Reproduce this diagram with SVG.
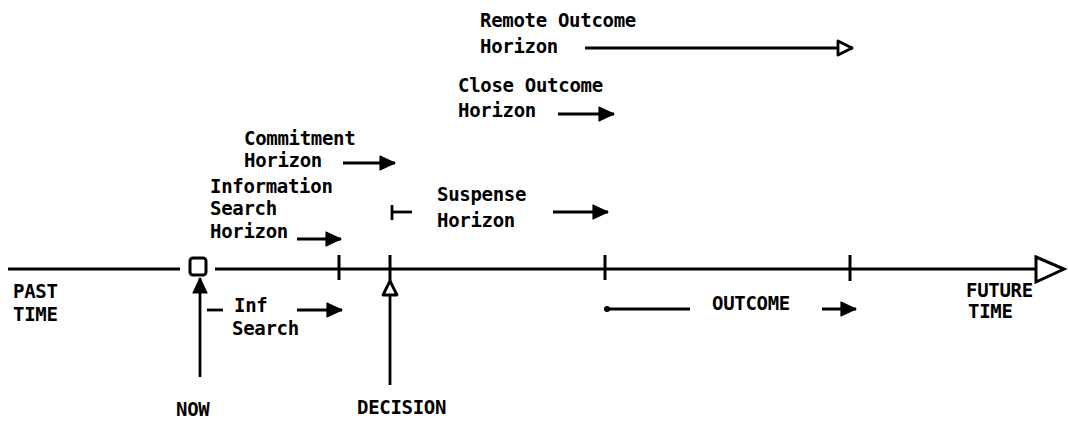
<svg xmlns="http://www.w3.org/2000/svg" width="1068" height="421" viewBox="0 0 1068 421">
<style>
text{font-family:"DejaVu Sans Mono","Liberation Mono",monospace;font-size:19px;letter-spacing:-0.3px;font-weight:bold;fill:#000}
.ln{stroke:#000;stroke-width:3;fill:none;stroke-linecap:butt}
.ar{stroke:#000;stroke-width:2.8;fill:none}
</style>
<defs>
<marker id="fa" markerUnits="userSpaceOnUse" markerWidth="18" markerHeight="16" refX="16" refY="8" orient="auto">
<path d="M1,1 L16,8 L1,15 z" fill="#000" stroke="#000" stroke-width="1.2" stroke-linejoin="round"/>
</marker>
<marker id="oa" markerUnits="userSpaceOnUse" markerWidth="20" markerHeight="18" refX="17" refY="9" orient="auto">
<path d="M2,2 L16,9 L2,16 z" fill="#fff" stroke="#000" stroke-width="2.8" stroke-linejoin="round"/>
</marker>
</defs>
<rect width="1068" height="421" fill="#fff"/>
<g id="connectors">
<line class="ln" x1="8" y1="269" x2="180" y2="269"/>
<line class="ln" x1="215" y1="269" x2="1040" y2="269"/>
<polygon points="1036,257 1064,269 1036,282" fill="#fff" stroke="#000" stroke-width="3"/>
<line class="ln" x1="339" y1="255" x2="339" y2="280"/>
<line class="ln" x1="390" y1="255" x2="390" y2="280"/>
<line class="ln" x1="605" y1="255" x2="605" y2="280"/>
<line class="ln" x1="850" y1="255" x2="850" y2="281"/>
<line class="ar" x1="200" y1="377" x2="200" y2="278" marker-end="url(#fa)"/>
<line class="ar" x1="390" y1="385" x2="390" y2="280" marker-end="url(#oa)"/>
<line class="ar" x1="585" y1="48" x2="853" y2="48" marker-end="url(#oa)"/>
<line class="ar" x1="558" y1="114" x2="614" y2="114" marker-end="url(#fa)"/>
<line class="ar" x1="343" y1="163" x2="395" y2="163" marker-end="url(#fa)"/>
<line class="ar" x1="297" y1="239" x2="341" y2="239" marker-end="url(#fa)"/>
<line class="ar" x1="391" y1="212" x2="412" y2="212"/>
<line class="ar" x1="392" y1="205" x2="392" y2="220"/>
<line class="ar" x1="553" y1="212" x2="608" y2="212" marker-end="url(#fa)"/>
<line class="ar" x1="207" y1="310" x2="223" y2="310"/>
<line class="ar" x1="297" y1="310" x2="342" y2="310" marker-end="url(#fa)"/>
<line class="ar" x1="607" y1="309" x2="690" y2="309"/>
<circle cx="607" cy="309" r="3" fill="#000"/>
<line class="ar" x1="822" y1="309" x2="856" y2="309" marker-end="url(#fa)"/>
</g>
<g id="now-box"><rect x="190" y="258" width="16" height="17" rx="3" fill="#fff" stroke="#000" stroke-width="3"/></g>
<g id="past"><text x="13" y="298">PAST</text><text x="13" y="321">TIME</text></g>
<g id="future"><text x="966" y="297">FUTURE</text><text x="968" y="318">TIME</text></g>
<g id="now"><text x="176" y="416">NOW</text></g>
<g id="decision"><text x="357" y="414">DECISION</text></g>
<g id="remote"><text x="480" y="27">Remote Outcome</text><text x="480" y="53">Horizon</text></g>
<g id="close"><text x="458" y="92">Close Outcome</text><text x="458" y="117">Horizon</text></g>
<g id="commitment"><text x="244" y="145">Commitment</text><text x="244" y="167">Horizon</text></g>
<g id="infosearch"><text x="210" y="193">Information</text><text x="210" y="215">Search</text><text x="210" y="238">Horizon</text></g>
<g id="suspense"><text x="437" y="201">Suspense</text><text x="437" y="227">Horizon</text></g>
<g id="infsearch"><text x="234" y="312">Inf</text><text x="232" y="335">Search</text></g>
<g id="outcome"><text x="712" y="310">OUTCOME</text></g>
</svg>
